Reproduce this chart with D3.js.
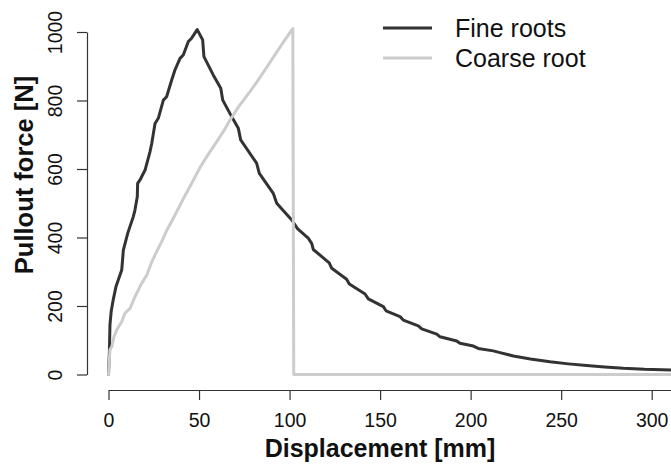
<!DOCTYPE html>
<html>
<head>
<meta charset="utf-8">
<script src="https://cdn.jsdelivr.net/npm/d3@7"></script>
<style>
  html, body { margin: 0; padding: 0; background: #ffffff; }
  svg { display: block; }
  text { font-family: "Liberation Sans", Arial, Helvetica, sans-serif; }
</style>
</head>
<body>
<svg id="chart" width="671" height="465"></svg>
<script>
// Pullout force vs displacement for two root samples
const fineDisp = [0, 0.5, 0.8, 1.5, 2.6, 4.1, 6.3, 7.3, 8.2, 10.6, 13.7, 14.6, 15.9, 16.1, 17.4, 20.2,
  22.9, 23.9, 25.7, 27.5, 30.3, 32.1, 34.9, 36.7, 39.5, 41.3, 44.1, 45.9, 49.0, 52.0, 52.7, 57.9,
  62.0, 63.1, 68.0, 71.7, 73.0, 81.8, 83.3, 91.0, 92.9, 101.2, 104.5, 110.3, 112.2, 113.1, 121.9,
  123.3, 131.5, 133.0, 141.7, 143.5, 151.8, 153.3, 161.0, 162.8, 171.1, 173.0, 181.3, 183.1, 192.3,
  194.1, 201.5, 204.2, 212.5, 216.2, 223.6, 233, 243.8, 254, 264.1, 274, 284.3, 296, 312];
const fineForce = [0, 67, 145, 185, 218, 256, 290, 305, 363, 412, 461, 480, 519, 558, 568, 597,
  650, 675, 733, 748, 801, 811, 860, 889, 923, 933, 972, 982, 1007, 977, 928, 874,
  836, 801, 753, 719, 685, 617, 587, 529, 500, 451, 425, 398, 383, 365, 326,
  310, 278, 264, 235, 221, 198, 186, 169, 159, 142, 133, 118, 110, 98,
  91, 83, 76, 69, 64, 54, 45, 37, 31, 26, 22, 18, 15, 13];

const coarseDisp = [0, 0.8, 1.8, 3.0, 4.5, 7.3, 9.1, 11.9, 14.6, 18.3, 21.1, 23.9, 26.6, 29.4, 32.1,
  35.8, 39.5, 41.3, 45, 50.5, 55, 59.8, 63.4, 67.1, 72, 78.1, 81.8, 87.4, 92, 96.5, 100.2, 101.8,
  102.3, 312];
const coarseForce = [0, 72, 81, 110, 130, 154, 179, 193, 227, 266, 290, 329, 359, 388, 420,
  456, 494, 513, 549, 604, 642, 680, 709, 743, 783, 826, 853, 897, 934, 970, 998, 1010,
  0, 0];

const xTicks = [0, 50, 100, 150, 200, 250, 300];
const yTicks = [0, 200, 400, 600, 800, 1000];
const seriesNames = ["Fine roots", "Coarse root"];
const seriesColors = ["#333333", "#cccccc"];

const svg = d3.select("#chart");

const x = d3.scaleLinear().domain([0, 300]).range([108.5, 651.7]);
const y = d3.scaleLinear().domain([0, 1000]).range([374.5, 32]);
const xEnd = x.invert(671);

// x axis: line runs on to the right edge
const xAxisScale = x.copy().domain([0, xEnd]).range([x(0), 671]);
const gx = svg.append("g").attr("transform", "translate(0,390)")
  .call(d3.axisBottom(xAxisScale).tickValues(xTicks).tickSize(10).tickSizeOuter(0).tickFormat(d3.format("d")));
gx.select(".domain").attr("stroke", "#333").attr("stroke-width", 1.2);
gx.selectAll(".tick line").attr("stroke", "#333").attr("stroke-width", 1.2);
gx.selectAll(".tick text").attr("y", 37).attr("dy", 0)
  .attr("font-size", "19.5px").attr("fill", "#111")
  .style("font-family", "'Liberation Sans', Arial, sans-serif");

// y axis with rotated tick labels
const gy = svg.append("g").attr("transform", "translate(87,0)")
  .call(d3.axisLeft(y).tickValues(yTicks).tickSize(10).tickSizeOuter(0).tickFormat(d3.format("d")));
gy.select(".domain").attr("stroke", "#333").attr("stroke-width", 1.2);
gy.selectAll(".tick line").attr("stroke", "#333").attr("stroke-width", 1.2);
gy.selectAll(".tick text").attr("x", 0).attr("y", 0).attr("dy", 0)
  .attr("transform", "translate(-25,0) rotate(-90)")
  .attr("text-anchor", "middle")
  .attr("font-size", "19.5px").attr("fill", "#111")
  .style("font-family", "'Liberation Sans', Arial, sans-serif");

// axis titles
svg.append("text").attr("x", 380).attr("y", 457).attr("text-anchor", "middle")
  .attr("font-size", "25px").attr("font-weight", "bold").attr("fill", "#111")
  .text("Displacement [mm]");
svg.append("text").attr("transform", "translate(33,175) rotate(-90)").attr("text-anchor", "middle")
  .attr("font-size", "25.5px").attr("font-weight", "bold").attr("fill", "#111")
  .text("Pullout force [N]");

// curves
const line = d3.line().x(d => x(d[0])).y(d => y(d[1]));
const fine = fineDisp.map((d, i) => [d, fineForce[i]]);
const coarse = coarseDisp.map((d, i) => [d, coarseForce[i]]);

svg.append("path").datum(fine).attr("d", line)
  .attr("fill", "none").attr("stroke", seriesColors[0]).attr("stroke-width", 3)
  .attr("stroke-linejoin", "round").attr("stroke-linecap", "round");
svg.append("path").datum(coarse).attr("d", line)
  .attr("fill", "none").attr("stroke", seriesColors[1]).attr("stroke-width", 3)
  .attr("stroke-linejoin", "round").attr("stroke-linecap", "round");

// legend
const legend = svg.append("g");
seriesNames.forEach((name, i) => {
  const cy = 28 + i * 30;
  legend.append("line").attr("x1", 383).attr("x2", 432).attr("y1", cy).attr("y2", cy)
    .attr("stroke", seriesColors[i]).attr("stroke-width", 3);
  legend.append("text").attr("x", 455).attr("y", cy + 9)
    .attr("font-size", "25px").attr("fill", "#111").text(name);
});
</script>
</body>
</html>
